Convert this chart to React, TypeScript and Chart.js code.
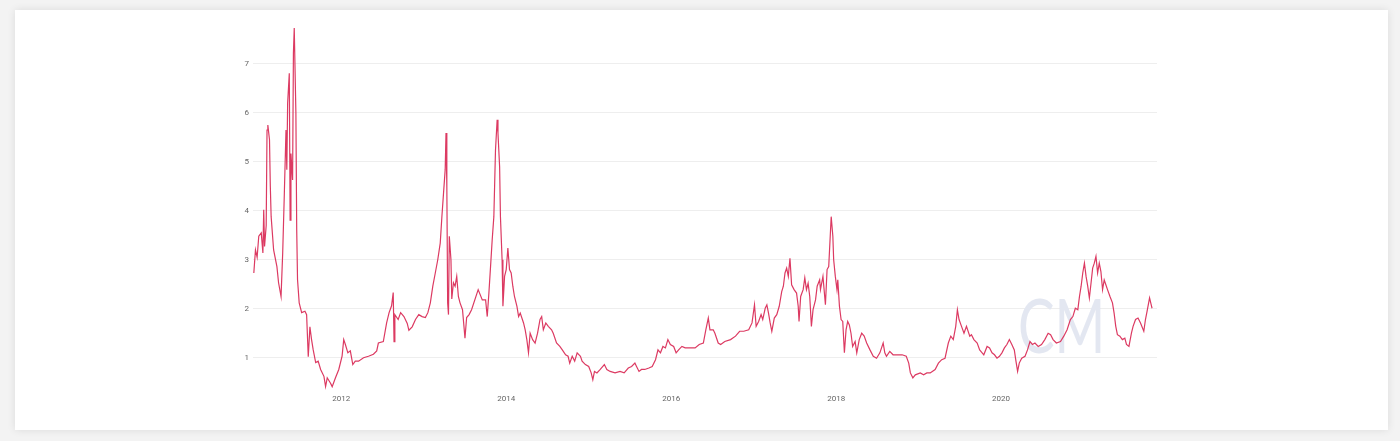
import React, { useEffect, useRef } from "react";
import { Chart, registerables } from "chart.js";

Chart.register(...registerables);

// Decimal years (x) and MVRV ratio values (y)
const mvrvDates: number[] = [
  2010.94, 2010.96, 2010.98, 2011.00, 2011.03, 2011.05, 2011.06, 2011.07, 2011.09, 2011.10,
  2011.11, 2011.13, 2011.14, 2011.15, 2011.18, 2011.22, 2011.24, 2011.27, 2011.29, 2011.31,
  2011.33, 2011.34, 2011.35, 2011.37, 2011.38, 2011.39, 2011.41, 2011.42, 2011.43, 2011.45,
  2011.46, 2011.47, 2011.49, 2011.52, 2011.56, 2011.58, 2011.60, 2011.62, 2011.64, 2011.66,
  2011.69, 2011.72, 2011.75, 2011.79, 2011.81, 2011.83, 2011.87, 2011.89, 2011.93, 2011.97,
  2012.01, 2012.03, 2012.05, 2012.08, 2012.11, 2012.14, 2012.17, 2012.21, 2012.27, 2012.33,
  2012.39, 2012.43, 2012.45, 2012.51, 2012.55, 2012.58, 2012.61, 2012.63, 2012.64, 2012.65,
  2012.69, 2012.72, 2012.76, 2012.80, 2012.82, 2012.86, 2012.90, 2012.94, 2012.98, 2013.02,
  2013.05, 2013.08, 2013.11, 2013.14, 2013.17, 2013.20, 2013.22, 2013.24, 2013.26, 2013.27,
  2013.28, 2013.29, 2013.30, 2013.31, 2013.33, 2013.34, 2013.36, 2013.38, 2013.40, 2013.42,
  2013.44, 2013.47, 2013.50, 2013.52, 2013.55, 2013.58,
  2013.66, 2013.71, 2013.75, 2013.77, 2013.79, 2013.81, 2013.83, 2013.85, 2013.86, 2013.87,
  2013.89, 2013.90, 2013.92, 2013.93, 2013.95, 2013.96, 2013.98, 2014.00, 2014.02, 2014.04,
  2014.06, 2014.08, 2014.10, 2014.13, 2014.15, 2014.17, 2014.21, 2014.23, 2014.25, 2014.27,
  2014.29, 2014.32, 2014.35, 2014.38, 2014.41, 2014.43, 2014.45, 2014.48, 2014.51, 2014.55,
  2014.57, 2014.61, 2014.65, 2014.68, 2014.72, 2014.75, 2014.77, 2014.80, 2014.83, 2014.86,
  2014.90, 2014.92, 2014.96, 2015.00, 2015.03, 2015.05, 2015.07, 2015.10, 2015.14, 2015.19,
  2015.22, 2015.26, 2015.32, 2015.38, 2015.43, 2015.48, 2015.52, 2015.56, 2015.58, 2015.61,
  2015.64, 2015.68, 2015.73, 2015.77, 2015.81, 2015.84, 2015.87, 2015.90, 2015.93, 2015.96,
  2015.99, 2016.03, 2016.06, 2016.09, 2016.13, 2016.17, 2016.23, 2016.29, 2016.34,
  2016.39, 2016.42, 2016.45, 2016.47, 2016.51, 2016.53, 2016.57, 2016.60, 2016.65, 2016.72,
  2016.78, 2016.83, 2016.88, 2016.94, 2016.98, 2017.01, 2017.03, 2017.06, 2017.09, 2017.11,
  2017.14, 2017.16, 2017.18, 2017.20, 2017.22, 2017.25, 2017.28, 2017.31, 2017.34, 2017.36,
  2017.38, 2017.40, 2017.42, 2017.44, 2017.46, 2017.49, 2017.52, 2017.54, 2017.55, 2017.57,
  2017.60, 2017.62, 2017.64, 2017.66, 2017.68, 2017.70, 2017.72, 2017.75, 2017.77, 2017.80,
  2017.81, 2017.84, 2017.87, 2017.89, 2017.91, 2017.93, 2017.94, 2017.96, 2017.97, 2017.99,
  2018.01, 2018.02, 2018.04, 2018.06, 2018.08, 2018.10, 2018.12, 2018.14, 2018.16, 2018.18,
  2018.20, 2018.23, 2018.25, 2018.28, 2018.31, 2018.34, 2018.37, 2018.41, 2018.45, 2018.49,
  2018.53, 2018.57, 2018.59, 2018.61, 2018.65, 2018.69, 2018.74, 2018.80, 2018.85, 2018.88,
  2018.90, 2018.93, 2018.96,
  2019.02, 2019.06, 2019.10, 2019.14, 2019.20, 2019.24, 2019.28, 2019.32, 2019.36, 2019.39,
  2019.42, 2019.45, 2019.47, 2019.49, 2019.52, 2019.55, 2019.58, 2019.62, 2019.64, 2019.67,
  2019.71, 2019.74, 2019.77, 2019.79, 2019.83, 2019.86, 2019.89, 2019.92, 2019.95, 2019.98,
  2020.01, 2020.04, 2020.07, 2020.10, 2020.13, 2020.16, 2020.18, 2020.20, 2020.22, 2020.25,
  2020.29, 2020.32, 2020.35, 2020.38, 2020.41, 2020.45, 2020.49, 2020.53, 2020.57, 2020.60,
  2020.63, 2020.67, 2020.72, 2020.76, 2020.80, 2020.84, 2020.87, 2020.90, 2020.93, 2020.95,
  2020.97, 2020.99, 2021.01, 2021.03, 2021.05, 2021.07, 2021.09, 2021.11, 2021.13, 2021.15,
  2021.17, 2021.19, 2021.21, 2021.23, 2021.25, 2021.27, 2021.29, 2021.32, 2021.35, 2021.37,
  2021.39, 2021.41, 2021.44, 2021.47, 2021.50, 2021.52, 2021.55, 2021.58, 2021.60, 2021.63,
  2021.66, 2021.69, 2021.73, 2021.75, 2021.77, 2021.80, 2021.82, 2021.83,
];

const mvrvValues: number[] = [
  2.73, 3.2, 3.05, 3.48, 3.55, 3.14, 4.02, 3.27, 3.7, 5.65,
  5.75, 5.45, 4.5, 3.88, 3.2, 2.86, 2.53, 2.25, 3.14, 4.36,
  5.65, 4.84, 6.2, 6.81, 3.81, 5.17, 4.63, 7.22, 7.73, 6.0,
  3.61, 2.59, 2.12, 1.92, 1.95, 1.88, 1.02, 1.63, 1.37, 1.16,
  0.9, 0.93, 0.76, 0.62, 0.41, 0.59, 0.48, 0.41, 0.59, 0.76,
  1.03, 1.37, 1.27, 1.1, 1.14, 0.86, 0.93, 0.93, 1.0, 1.03,
  1.07, 1.14, 1.3, 1.33, 1.71, 1.92, 2.06, 2.33, 1.33, 1.88,
  1.78, 1.92, 1.84, 1.7, 1.56, 1.63, 1.78, 1.88, 1.84, 1.82,
  1.92, 2.12, 2.46, 2.73, 3.0, 3.34, 3.88, 4.36, 4.84, 5.59,
  4.5, 2.12, 1.88, 3.48, 3.0, 2.2, 2.53, 2.46, 2.66, 2.25,
  2.12, 1.98, 1.4, 1.82, 1.88, 1.98,
  2.39, 2.18, 2.18, 1.84, 2.32, 2.86, 3.41, 3.88, 4.56, 5.24,
  5.86, 5.59, 4.9, 3.88, 3.0, 2.05, 2.66, 2.8, 3.24, 2.8,
  2.73, 2.46, 2.25, 2.05, 1.84, 1.91, 1.71, 1.57, 1.37, 1.1,
  1.5, 1.37, 1.3, 1.5, 1.78, 1.84, 1.57, 1.71, 1.64, 1.57,
  1.5, 1.3, 1.23, 1.16, 1.06, 1.03, 0.89, 1.03, 0.93, 1.1,
  1.03, 0.93, 0.86, 0.82, 0.69, 0.55, 0.72, 0.69, 0.76, 0.86,
  0.76, 0.72, 0.69, 0.72, 0.69, 0.79, 0.82, 0.89, 0.82, 0.72,
  0.76, 0.76, 0.79, 0.82, 0.96, 1.16, 1.1, 1.23, 1.2, 1.37,
  1.27, 1.23, 1.1, 1.16, 1.23, 1.2, 1.2, 1.2, 1.27,
  1.3, 1.57, 1.81, 1.57, 1.57, 1.5, 1.3, 1.27, 1.33, 1.37,
  1.44, 1.54, 1.54, 1.57, 1.71, 2.08, 1.64, 1.74, 1.88, 1.78,
  2.01, 2.08, 1.91, 1.71, 1.54, 1.81, 1.88, 2.05, 2.35, 2.46,
  2.73, 2.83, 2.66, 3.03, 2.49, 2.39, 2.32, 2.05, 1.74, 2.25,
  2.39, 2.63, 2.39, 2.52, 2.25, 1.64, 1.98, 2.18, 2.46, 2.59,
  2.39, 2.66, 2.08, 2.8, 2.86, 3.54, 3.88, 3.48, 3.0, 2.66,
  2.39, 2.59, 2.05, 1.78, 1.74, 1.1, 1.57, 1.74, 1.67, 1.5,
  1.23, 1.33, 1.1, 1.37, 1.5, 1.44, 1.3, 1.16, 1.03, 0.99,
  1.1, 1.3, 1.1, 1.03, 1.13, 1.06, 1.06, 1.06, 1.03, 0.89,
  0.69, 0.59, 0.65,
  0.69, 0.65, 0.69, 0.69, 0.76, 0.89, 0.96, 0.99, 1.3, 1.44,
  1.37, 1.64, 1.98, 1.78, 1.64, 1.5, 1.64, 1.44, 1.47, 1.37,
  1.3, 1.16, 1.1, 1.06, 1.23, 1.2, 1.1, 1.06, 0.99, 1.03,
  1.1, 1.2, 1.27, 1.37, 1.27, 1.16, 0.93, 0.72, 0.89, 0.99,
  1.03, 1.16, 1.33, 1.27, 1.3, 1.23, 1.27, 1.37, 1.5, 1.47,
  1.37, 1.3, 1.33, 1.44, 1.57, 1.78, 1.84, 2.01, 1.98, 2.25,
  2.46, 2.73, 2.93, 2.66, 2.46, 2.22, 2.52, 2.83, 2.93, 3.07,
  2.73, 2.93, 2.76, 2.39, 2.59, 2.49, 2.39, 2.25, 2.12, 1.91,
  1.64, 1.47, 1.44, 1.37, 1.4, 1.27, 1.23, 1.5, 1.64, 1.78,
  1.81, 1.71, 1.54, 1.78, 1.95, 2.22, 2.08, 2.01,
];

const yTickValues: number[] = [1, 2, 3, 4, 5, 6, 7];
const xTickYears: number[] = [2012, 2014, 2016, 2018, 2020];
const xRange: number[] = [2010.93, 2021.89];
const yRange: number[] = [0.3, 7.92];

const watermarkPlugin = {
  id: "cmWatermark",
  beforeDatasetsDraw(chart: any) {
    const { ctx, chartArea } = chart;
    ctx.save();
    ctx.fillStyle = "rgba(226,230,240,0.95)";
    ctx.font = "400 76px Lato";
    ctx.textAlign = "left";
    ctx.textBaseline = "alphabetic";
    ctx.translate(chartArea.right - 139, chartArea.bottom - 39);
    ctx.scale(0.72, 1);
    ctx.fillText("CM", 0, 0);
    ctx.restore();
  },
};

export default function App() {
  const canvasRef = useRef<HTMLCanvasElement | null>(null);

  useEffect(() => {
    if (!canvasRef.current) return;
    const points = mvrvDates.map((d, i) => ({ x: d, y: mvrvValues[i] }));
    const chart = new Chart(canvasRef.current, {
      type: "line",
      data: {
        datasets: [
          {
            label: "MVRV",
            data: points,
            borderColor: "#dc3a62",
            borderWidth: 1.2,
            pointRadius: 0,
            tension: 0,
            fill: false,
          },
        ],
      },
      options: {
        animation: false,
        responsive: false,
        maintainAspectRatio: false,
        layout: { padding: { left: 218, right: 231, top: 0, bottom: 13 } },
        plugins: {
          legend: { display: false },
          tooltip: { enabled: false },
          title: { display: false },
        },
        scales: {
          x: {
            type: "linear",
            min: xRange[0],
            max: xRange[1],
            grid: { display: false, drawTicks: false },
            border: { display: false },
            afterBuildTicks: (scale: any) => {
              scale.ticks = xTickYears.map((v) => ({ value: v }));
            },
            afterFit: (scale: any) => {
              scale.height = 25;
            },
            ticks: {
              padding: 2,
              maxRotation: 0,
              autoSkip: false,
              color: "#666666",
              font: { family: "Roboto", size: 8 },
              callback: (v: any) => String(v),
            },
          },
          y: {
            type: "linear",
            min: yRange[0],
            max: yRange[1],
            grid: { color: "#eeeeee", lineWidth: 1, drawTicks: false },
            border: { display: false },
            afterBuildTicks: (scale: any) => {
              scale.ticks = yTickValues.map((v) => ({ value: v }));
            },
            afterFit: (scale: any) => {
              scale.width = 20;
            },
            ticks: {
              padding: 4,
              color: "#666666",
              font: { family: "Roboto", size: 8 },
              callback: (v: any) => String(v),
            },
          },
        },
      },
      plugins: [watermarkPlugin],
    });
    return () => chart.destroy();
  }, []);

  return (
    <div
      style={{
        position: "absolute",
        left: 0,
        top: 0,
        width: 1400,
        height: 441,
        background: "#f3f3f3",
        overflow: "hidden",
      }}
    >
      <div
        style={{
          position: "absolute",
          left: 15,
          top: 10,
          width: 1373,
          height: 420,
          background: "#ffffff",
          boxShadow: "0 0 8px rgba(0,0,0,0.10)",
        }}
      >
        <canvas ref={canvasRef} width={1373} height={420} style={{ display: "block" }} />
      </div>
    </div>
  );
}
